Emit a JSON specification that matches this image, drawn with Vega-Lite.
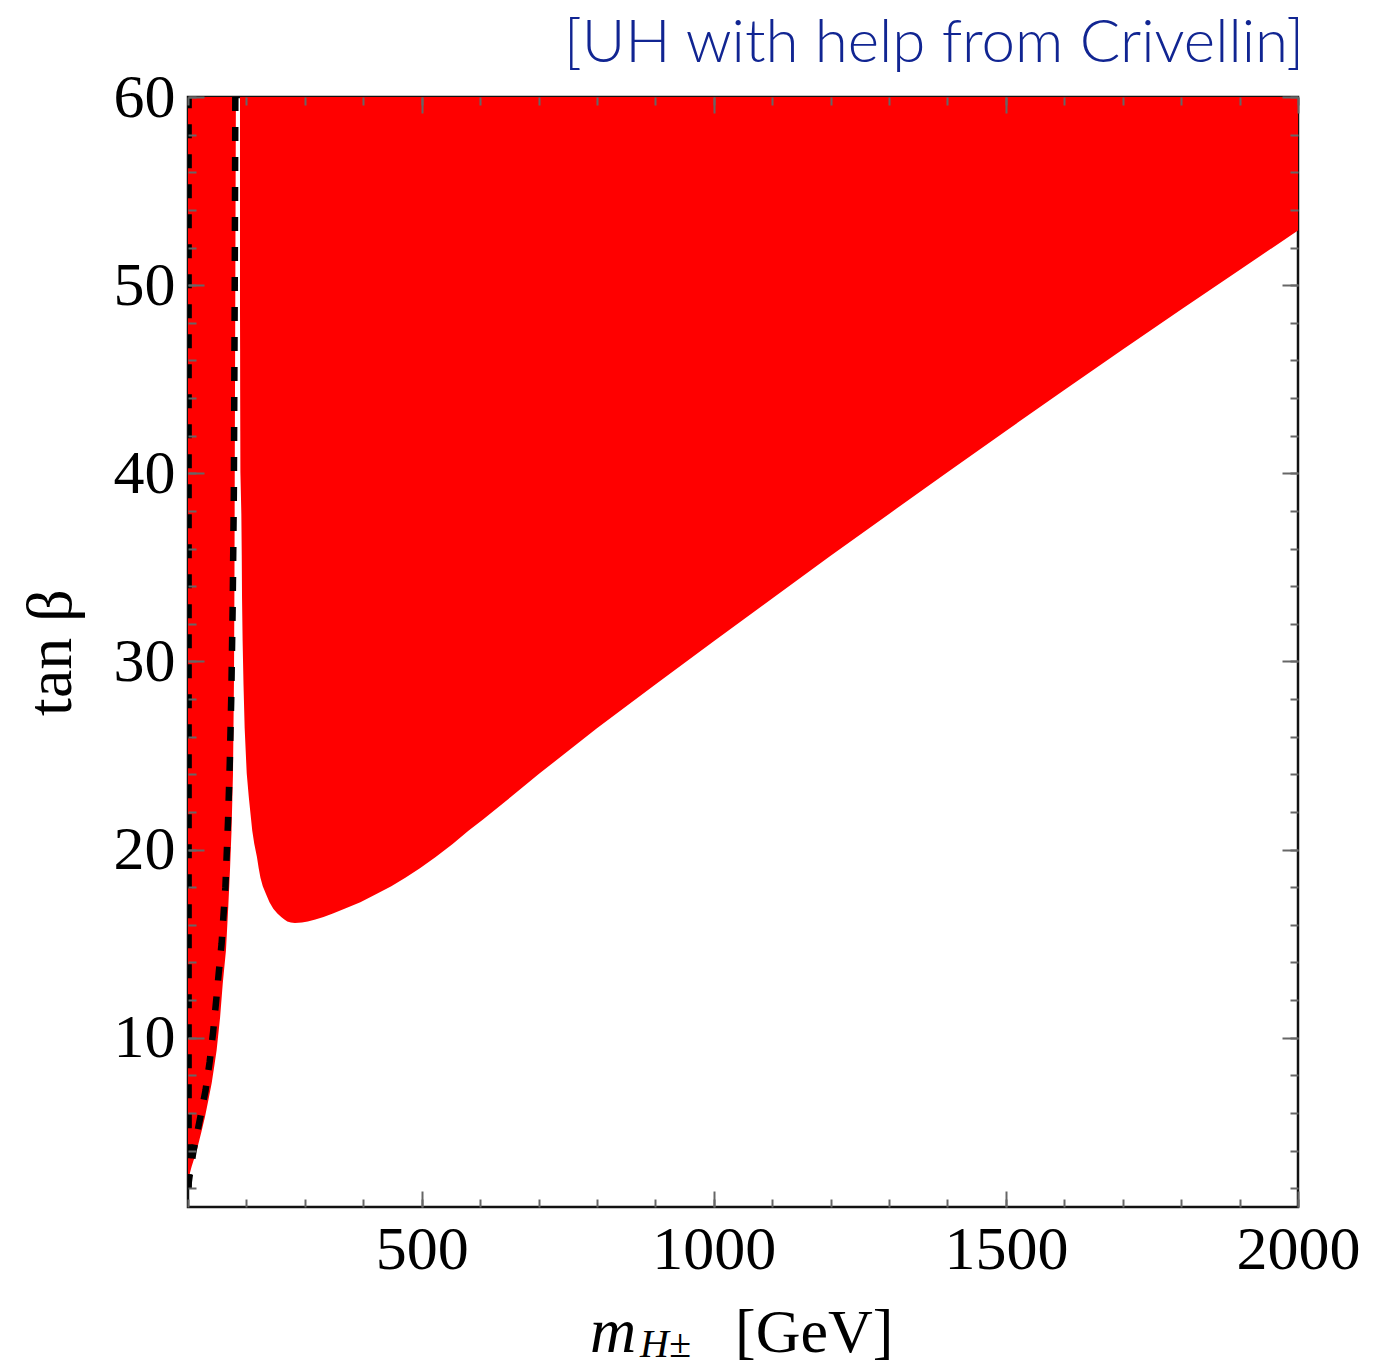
{
  "$schema": "https://vega.github.io/schema/vega-lite/v6.json",
  "autosize": {"type": "none"},
  "padding": {"left": 188, "top": 97, "right": 98, "bottom": 162},
  "width": 1110,
  "height": 1110,
  "background": "white",
  "title": {"text": "[UH with help from Crivellin]", "anchor": "end", "frame": "group", "font": "Lato", "fontSize": 60, "fontWeight": 300, "color": "#112592", "offset": -9, "dx": 6},
  "datasets": {
    "leftRegion": [
      {"tanb": 2.42, "xa": 100}, {"tanb": 3.13, "xa": 106}, {"tanb": 4.02, "xa": 115}, {"tanb": 5.0, "xa": 123},
      {"tanb": 5.79, "xa": 129}, {"tanb": 6.7, "xa": 135}, {"tanb": 7.58, "xa": 140.5}, {"tanb": 8.5, "xa": 145},
      {"tanb": 9.33, "xa": 149}, {"tanb": 11.1, "xa": 155}, {"tanb": 12.88, "xa": 159.5}, {"tanb": 14.65, "xa": 165},
      {"tanb": 17, "xa": 169}, {"tanb": 19, "xa": 172}, {"tanb": 21, "xa": 174.5}, {"tanb": 24, "xa": 177},
      {"tanb": 29, "xa": 178.7}, {"tanb": 34, "xa": 179.5}, {"tanb": 39.6, "xa": 180}, {"tanb": 50, "xa": 181}, {"tanb": 60, "xa": 182}
    ],
    "rightRegion": [
      {"tanb": 16.1, "xl": 283, "xr": 283}, {"tanb": 16.12, "xl": 276, "xr": 295}, {"tanb": 16.18, "xl": 270, "xr": 305},
      {"tanb": 16.28, "xl": 265, "xr": 318}, {"tanb": 16.42, "xl": 259.5, "xr": 332}, {"tanb": 16.6, "xl": 253, "xr": 348},
      {"tanb": 16.85, "xl": 246, "xr": 368}, {"tanb": 17.2, "xl": 239.5, "xr": 395}, {"tanb": 17.6, "xl": 234, "xr": 420},
      {"tanb": 18.05, "xl": 228, "xr": 448}, {"tanb": 18.5, "xl": 224, "xr": 472}, {"tanb": 19.0, "xl": 221, "xr": 497},
      {"tanb": 19.6, "xl": 218, "xr": 524}, {"tanb": 20.3, "xl": 213.5, "xr": 553}, {"tanb": 21.0, "xl": 210, "xr": 580},
      {"tanb": 21.6, "xl": 208, "xr": 605}, {"tanb": 22.8, "xl": 204, "xr": 653}, {"tanb": 24.05, "xl": 200.5, "xr": 702},
      {"tanb": 26.45, "xl": 197, "xr": 800}, {"tanb": 28.77, "xl": 195, "xr": 900},
      {"tanb": 31.07, "xl": 193.5, "xr": 1000}, {"tanb": 33.35, "xl": 192.5, "xr": 1100}, {"tanb": 35.61, "xl": 192, "xr": 1200},
      {"tanb": 37.84, "xl": 191.3, "xr": 1300}, {"tanb": 40.06, "xl": 189.7, "xr": 1400}, {"tanb": 42.25, "xl": 189.5, "xr": 1500},
      {"tanb": 44.43, "xl": 189.3, "xr": 1600}, {"tanb": 46.58, "xl": 189.2, "xr": 1700}, {"tanb": 48.7, "xl": 189, "xr": 1800},
      {"tanb": 50.81, "xl": 189, "xr": 1900}, {"tanb": 52.9, "xl": 189, "xr": 2000}, {"tanb": 60, "xl": 189, "xr": 2000}
    ],
    "dashCurve": [
      {"tanb": 2.0, "x": 100}, {"tanb": 2.6, "x": 102.5}, {"tanb": 4.0, "x": 109.5}, {"tanb": 5.6, "x": 120},
      {"tanb": 7.2, "x": 130}, {"tanb": 8.7, "x": 137}, {"tanb": 10.3, "x": 143}, {"tanb": 11.9, "x": 148},
      {"tanb": 13.4, "x": 152.5}, {"tanb": 15, "x": 157.5}, {"tanb": 18, "x": 164}, {"tanb": 21.5, "x": 168.5},
      {"tanb": 24.6, "x": 171.5}, {"tanb": 28, "x": 174}, {"tanb": 33, "x": 176.5}, {"tanb": 39, "x": 178.5},
      {"tanb": 50, "x": 180}, {"tanb": 60, "x": 181}
    ],
    "dashEdge": [
      {"tanb": 2.0, "x": 101}, {"tanb": 60, "x": 101}
    ],
    "one": [{}]
  },
  "config": {
    "view": {"stroke": "#111111", "strokeWidth": 2.5},
    "axis": {
      "domain": false, "grid": false, "tickColor": "#666666", "tickWidth": 2,
      "labelFont": "Liberation Serif", "labelFontSize": 62, "labelColor": "black",
      "labelFlush": false, "labelOverlap": false, "labelBound": false, "format": "d",
      "titleFont": "Liberation Serif", "titleFontSize": 64, "titleFontWeight": "normal", "titleColor": "black"
    }
  },
  "resolve": {"axis": {"x": "independent", "y": "independent"}},
  "layer": [
    {
      "data": {"name": "leftRegion"},
      "mark": {"type": "area", "orient": "horizontal", "color": "#ff0000"},
      "encoding": {
        "y": {"field": "tanb", "type": "quantitative", "scale": {"domain": [1, 60], "nice": false, "zero": false},
              "axis": {"orient": "left", "values": [10, 20, 30, 40, 50, 60], "format": "d", "tickSize": -16, "labelPadding": 29, "title": "tan β", "titlePadding": 30, "zindex": 2}},
        "x": {"field": "xa", "type": "quantitative", "scale": {"domain": [100, 2000], "nice": false, "zero": false},
              "axis": {"orient": "bottom", "values": [500, 1000, 1500, 2000], "format": "d", "tickSize": -16, "labelPadding": 28, "title": null, "zindex": 2}},
        "x2": {"datum": 100}
      }
    },
    {
      "data": {"name": "rightRegion"},
      "mark": {"type": "area", "orient": "horizontal", "color": "#ff0000"},
      "encoding": {
        "y": {"field": "tanb", "type": "quantitative",
              "axis": {"orient": "left", "values": [2,4,6,8,10,12,14,16,18,20,22,24,26,28,30,32,34,36,38,40,42,44,46,48,50,52,54,56,58,60], "tickSize": -8, "labels": false, "title": null, "zindex": 2}},
        "x": {"field": "xl", "type": "quantitative",
              "axis": {"orient": "bottom", "values": [100,200,300,400,500,600,700,800,900,1000,1100,1200,1300,1400,1500,1600,1700,1800,1900,2000], "tickSize": -8, "labels": false, "title": null, "zindex": 2}},
        "x2": {"field": "xr"}
      }
    },
    {
      "data": {"name": "dashCurve"},
      "mark": {"type": "line", "color": "black", "strokeWidth": 6.5, "strokeDash": [14, 16], "strokeCap": "butt", "clip": true},
      "encoding": {
        "y": {"field": "tanb", "type": "quantitative",
              "axis": {"orient": "right", "values": [10, 20, 30, 40, 50, 60], "tickSize": -16, "labels": false, "title": null, "zindex": 2}},
        "x": {"field": "x", "type": "quantitative",
              "axis": {"orient": "top", "values": [500, 1000, 1500, 2000], "tickSize": -16, "labels": false, "title": null, "zindex": 2}},
        "order": {"field": "tanb", "type": "quantitative"}
      }
    },
    {
      "data": {"name": "dashEdge"},
      "mark": {"type": "line", "color": "black", "strokeWidth": 6.5, "strokeDash": [14, 16], "strokeCap": "butt", "clip": true},
      "encoding": {
        "y": {"field": "tanb", "type": "quantitative",
              "axis": {"orient": "right", "values": [2,4,6,8,10,12,14,16,18,20,22,24,26,28,30,32,34,36,38,40,42,44,46,48,50,52,54,56,58,60], "tickSize": -8, "labels": false, "title": null, "zindex": 2}},
        "x": {"field": "x", "type": "quantitative",
              "axis": {"orient": "top", "values": [100,200,300,400,500,600,700,800,900,1000,1100,1200,1300,1400,1500,1600,1700,1800,1900,2000], "tickSize": -8, "labels": false, "title": null, "zindex": 2}},
        "order": {"field": "tanb", "type": "quantitative"}
      }
    },
    {
      "data": {"name": "one"},
      "mark": {"type": "text", "font": "Liberation Serif", "fontSize": 64, "fontStyle": "italic", "align": "left", "baseline": "alphabetic", "color": "black"},
      "encoding": {
        "x": {"datum": 788, "type": "quantitative", "axis": null},
        "y": {"datum": -6.71, "type": "quantitative", "axis": null},
        "text": {"value": "m"}
      }
    },
    {
      "data": {"name": "one"},
      "mark": {"type": "text", "font": "Liberation Serif", "fontSize": 40, "fontStyle": "italic", "align": "left", "baseline": "alphabetic", "color": "black"},
      "encoding": {
        "x": {"datum": 873.7, "type": "quantitative", "axis": null},
        "y": {"datum": -6.95, "type": "quantitative", "axis": null},
        "text": {"value": "H±"}
      }
    },
    {
      "data": {"name": "one"},
      "mark": {"type": "text", "font": "Liberation Serif", "fontSize": 62, "align": "left", "baseline": "alphabetic", "color": "black"},
      "encoding": {
        "x": {"datum": 1036.3, "type": "quantitative", "axis": null},
        "y": {"datum": -6.71, "type": "quantitative", "axis": null},
        "text": {"value": "[GeV]"}
      }
    }
  ]
}
